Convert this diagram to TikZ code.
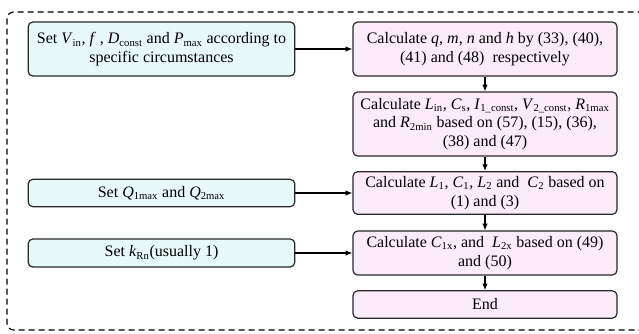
\documentclass[tikz,border=0pt]{standalone}
\usepackage{fontspec}
\setmainfont{Liberation Serif}
\definecolor{setcyan}{RGB}{232, 249, 250}
\definecolor{calcpink}{RGB}{252, 236, 250}
\definecolor{edgegray}{RGB}{40, 40, 40}
\usetikzlibrary{arrows.meta, positioning}
\newcommand{\vsub}[2]{\textit{#1}\textsubscript{#2}}

\begin{document}
\begin{tikzpicture}[x=0.75pt, y=-0.75pt,
  every node/.style={font=\fontsize{12}{14}\selectfont, align=center, inner sep=1pt},
  box/.style={draw=edgegray, line width=0.9pt, rounded corners=3.5pt, minimum height=#1},
  setbox/.style={box=#1, fill=setcyan, minimum width=200pt},
  calcbox/.style={box=#1, fill=calcpink, minimum width=198pt},
  flow/.style={line width=0.8pt, -{Latex[length=5pt, width=4pt]}}]
  \useasboundingbox (0,0) rectangle (639,333);
  \clip (0,0) rectangle (639,333);
  % outer frame
  \draw[line width=0.9pt, dashed, dash pattern=on 4.5pt off 3pt, rounded corners=5pt] (7,12) rectangle (660,330);
  % left column
  \node[setbox=40.5pt] (setv) at (161.5,49) {Set \vsub{V}{in}, \textit{f} , \vsub{D}{const} and \vsub{P}{max} according to\\specific circumstances};
  \node[setbox=20.5pt] (setq) at (161.5,193) {Set \vsub{Q}{1max} and \vsub{Q}{2max}};
  \node[setbox=21pt] (setk) at (161.5,253) {Set \vsub{k}{Rn}(usually 1)};
  % right column
  \node[calcbox=40.5pt] (calcq) at (485,49) {Calculate \textit{q}, \textit{m}, \textit{n} and \textit{h} by (33), (40),\\(41) and (48)\ \ respectively};
  \node[calcbox=48pt] (calcl) at (485,124) {Calculate \vsub{L}{in}, \vsub{C}{s}, \vsub{I}{1\_const}, \vsub{V}{2\_const}, \vsub{R}{1max}\\and \vsub{R}{2min} based on (57), (15), (36),\\(38) and (47)};
  \node[calcbox=32pt] (calcc) at (485,193) {Calculate \vsub{L}{1}, \vsub{C}{1}, \vsub{L}{2} and\ \ \vsub{C}{2} based on\\(1) and (3)};
  \node[calcbox=33pt] (calcx) at (485,253) {Calculate \vsub{C}{1x}, and\ \ \vsub{L}{2x} based on (49)\\and (50)};
  \node[calcbox=20.5pt] (stop) at (485,304.5) {End};
  % connectors
  \draw[flow] (setv) -- (calcq);
  \draw[flow] (calcq) -- (calcl);
  \draw[flow] (calcl) -- (calcc);
  \draw[flow] (calcc) -- (calcx);
  \draw[flow] (calcx) -- (stop);
  \draw[flow] (setq) -- (calcc);
  \draw[flow] (setk) -- (calcx);
\end{tikzpicture}
\end{document}
